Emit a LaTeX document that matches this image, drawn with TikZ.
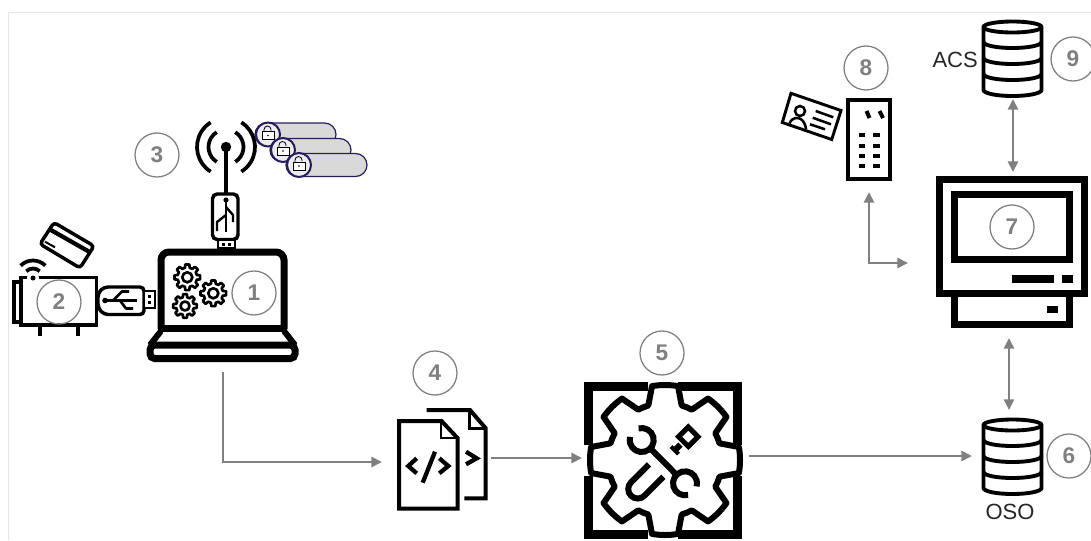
\documentclass[tikz,border=0pt]{standalone}
\usepackage{fontspec}
\setmainfont{Liberation Sans}
\usetikzlibrary{arrows.meta}
\definecolor{gr}{HTML}{808080}
\definecolor{pillc}{HTML}{D9D9D9}
\definecolor{pillb}{HTML}{2A1B5C}
\tikzset{
  numc/.style={circle,draw=gr,line width=0.95pt,minimum size=33pt,inner sep=0pt,text=gr,font=\bfseries\fontsize{17}{17}\selectfont},
  lbl/.style={inner sep=0pt,text=black!85,font=\fontsize{16.5}{17}\selectfont},
  conn/.style={draw=gr,line width=2.1pt,-{Triangle[length=8pt,width=7.5pt]}},
  connb/.style={draw=gr,line width=2.1pt,{Triangle[length=8pt,width=7.5pt]}-{Triangle[length=8pt,width=7.5pt]}},
  ico/.style={draw=black,line width=3pt,line join=miter},
  icoh/.style={draw=black,line width=5.25pt,line join=miter},
  icot/.style={draw=black,line width=2pt,line join=round},
  frameln/.style={draw=black!10,line width=0.75pt}
}
% gear: cx cy outer inner half-tip half-base hole style
\newcommand{\geargl}[8]{%
  \begin{scope}[shift={(#1,#2)}]
    \draw[#8] ({0-#5}:#3)
      \foreach \a in {0,45,...,315}{
        -- ({\a-#5}:#3) arc[start angle={\a-#5},end angle={\a+#5},radius=#3]
        -- ({\a+#6}:#4) arc[start angle={\a+#6},end angle={\a+45-#6},radius=#4]
      } -- cycle;
    \ifdim #7pt>0pt \draw[#8] (0,0) circle (#7); \fi
  \end{scope}}
\newcommand{\dbglyph}[2]{%
  \begin{scope}[shift={(#1,#2)}]
    \draw[ico,fill=white,line width=2.9pt] (-29,7) -- (-29,70) arc[start angle=180,end angle=0,x radius=29,y radius=6] -- (29,7) arc[start angle=0,end angle=-180,x radius=29,y radius=5.5] -- cycle;
    \draw[ico,line width=2.9pt] (-29,7) arc[start angle=180,end angle=0,x radius=29,y radius=5.5];
    \foreach \yy in {22,38,54}
      \draw[ico,line width=2.9pt] (-29,\yy) arc[start angle=180,end angle=0,x radius=29,y radius=6];
  \end{scope}}
\newcommand{\lockpill}[2]{%
  \begin{scope}[shift={(#1,#2)}]
    \draw[draw=pillb,fill=pillc,line width=0.9pt,rounded corners=8.6pt] (-13,-11.5) rectangle (68,11.5);
    \draw[draw=pillb,fill=pillc!50!white,line width=1.5pt] (0,0) circle (12);
    \draw[draw=black,line width=0.6pt,fill=white] (-6,-3) rectangle (6,5);
    \draw[draw=black,line width=0.6pt] (-4,-3) -- (-4,-5) arc[start angle=180,end angle=360,radius=3.5] -- (3,-4);
    \fill (0,1) circle (0.9);
  \end{scope}}
\begin{document}
\begin{tikzpicture}[x=0.75pt,y=0.75pt,yscale=-1]
\useasboundingbox (0,0) rectangle (1091,540);
\fill[white] (0,0) rectangle (1091,540);
\draw[frameln] (8,540) -- (8,12) -- (1091,12);

% --- laptop (1)
\draw[icoh,rounded corners=6pt] (161,329) -- (161,252) -- (284,252) -- (284,329);
\draw[icoh] (158,328.5) -- (287,328.5);
\draw[icoh,line width=4.5pt] (161,331) -- (150,345);
\draw[icoh,line width=4.5pt] (284,331) -- (295,345);
\draw[icoh,rounded corners=3.5pt] (150,345) rectangle (295,358.5);
\geargl{187.3}{277.3}{13}{9.8}{9}{14}{5}{icot}
\geargl{213.3}{293.3}{13}{9.8}{9}{14}{5}{icot}
\geargl{185}{306}{12}{9}{9}{14}{4.5}{icot}

% --- antenna dongle (3)
\draw[ico,line width=2.6pt,fill=white,rounded corners=3.5pt] (212.5,239.5) -- (212.5,194) -- (238,194) -- (238,239.5) -- cycle;
\draw[ico,fill=white,line width=1.9pt] (218,240) rectangle (235,248);
\fill (222,243) rectangle (225,246);
\fill (228,243) rectangle (231,246);
\draw[ico,line width=2.6pt] (226,147) -- (226,193);
\fill (226,147) circle (5.2);
\foreach \rr in {17.5,29}{
  \draw[ico,line width=2.8pt] (226,147) ++(-58:\rr) arc[start angle=-58,end angle=58,radius=\rr];
  \draw[ico,line width=2.8pt] (226,147) ++(122:\rr) arc[start angle=122,end angle=238,radius=\rr];
}
\fill (226,200) circle (2.6);
\draw[icot,line width=1.8pt] (226,200) -- (226,232);
\draw[icot,line width=1.8pt] (226,207) -- (233,215) -- (233,222);
\draw[icot,line width=1.8pt] (226,215) -- (217,222) -- (217,231);

% --- pills
\lockpill{268}{134.5}
\lockpill{283}{150}
\lockpill{299}{165}

% --- card reader (2)
\draw[ico,line width=2.8pt] (21,277.5) -- (96.5,277.5) -- (96.5,325) -- (21,325) -- cycle;
\draw[ico,line width=2.8pt] (21,282) -- (14,282) -- (14,322) -- (21,322);
\draw[ico,line width=3pt] (39.5,325) -- (39.5,336);
\draw[ico,line width=3pt] (78,325) -- (78,336);
\fill[white] (33,278) circle (6);
\fill (33,278) circle (2.5);
\draw[ico,line width=2.8pt] (33,278) ++(225:9.5) arc[start angle=225,end angle=315,radius=9.5];
\draw[ico,line width=2.8pt] (33,278) ++(225:17.5) arc[start angle=225,end angle=315,radius=17.5];
% contactless card
\draw[ico,line width=2.6pt,rounded corners=2.5pt] (54,222.5) -- (94,246) -- (80,268) -- (40,244) -- cycle;
\draw[ico,line width=3.2pt] (50,229.5) -- (90.5,252.5);
\draw[ico,line width=1.5pt] (45,241.7) -- (55,247.3);

% --- horizontal USB stick
\draw[ico,line width=2.6pt,fill=white,rounded corners=3pt] (144,287) -- (104,287) -- (98,293) -- (98,308) -- (104,314.5) -- (144,314.5) -- cycle;
\draw[ico,fill=white,line width=2pt] (144,291) rectangle (155,308);
\fill (148,294.5) rectangle (151,297.5);
\fill (148,301) rectangle (151,304);
\fill (105,300.5) circle (2.8);
\draw[icot] (105,300.5) -- (137,300.5);
\draw[icot] (113,300.5) -- (122,291.5) -- (129,291.5);
\draw[icot] (120,300.5) -- (126,308.5) -- (133,308.5);

% --- documents (4)
\draw[ico,line width=3pt] (426.7,410) -- (470,410) -- (485.7,428.3) -- (485.7,498.3) -- (464.3,498.3);
\draw[ico,line width=2.2pt] (469.5,410) -- (469.5,428.3) -- (485.7,428.3);
\draw[ico,line width=3.2pt] (466,451.7) -- (476.7,458.3) -- (466,464.3);
\draw[ico,fill=white,line width=3pt] (399,421) -- (441.5,421) -- (457.5,438) -- (457.5,508.5) -- (399,508.5) -- cycle;
\draw[ico,line width=2.2pt] (441,421) -- (441,438) -- (457.5,438);
\draw[ico,line width=3.2pt] (416.7,458.3) -- (408.3,466) -- (416.7,473.3);
\draw[ico,line width=3.2pt] (435,451.7) -- (422.7,482.7);
\draw[ico,line width=3.2pt] (439.3,458.3) -- (448.3,466) -- (439.3,473.3);

% --- service tool (5)
\foreach \sx/\sy/\ex/\ey/\cx/\cy in {647.5/386.5/588.5/445/588.5/386.5, 678/386.5/737.5/445/737.5/386.5, 647.5/534.5/588.5/475.5/588.5/534.5, 678/534.5/737.5/475.5/737.5/534.5}
  \draw[draw=black,line width=7pt,line cap=butt,line join=miter] (\sx,\sy) -- (\cx,\cy) -- (\ex,\ey);
\geargl{665}{460}{75}{57}{10}{17}{0}{draw=black,line width=4.5pt,line join=round}
\draw[icoh,line width=4.5pt] (641.7,440) ++(255:12) arc[start angle=255,end angle=555,radius=12];
\draw[icoh,line width=4.5pt] (685,483.3) ++(75:12) arc[start angle=75,end angle=375,radius=12];
\draw[icoh,line width=4.5pt] (650.5,448.5) -- (676.5,474.8);
\draw[icoh,line width=4.5pt] (649,464.3) -- (631,482.3) arc[start angle=225,end angle=45,radius=9.5] -- (663.4,476.7);
\draw[icoh,line width=3.8pt] (688.3,427) -- (698,436.7) -- (688.3,446.4) -- (678.6,436.7) -- cycle;
\draw[icoh,line width=4.5pt] (680.5,444.5) -- (674.5,450.5);
\draw[icoh,line width=3pt] (671,446.5) -- (678.5,454);

% --- databases
\dbglyph{1012.5}{20}
\dbglyph{1012.5}{418}
\node[lbl,anchor=east] (acs) at (978,60) {ACS};
\node[lbl] (oso) at (1010,512) {OSO};

% --- access terminal (8)
\draw[ico] (848,99.5) rectangle (890,178.5);
\draw[ico] (866.5,111) -- (869.5,118);
\draw[ico] (879.5,111) -- (883,118);
\foreach \yy in {133,143.5,153.5,164}{
  \fill (858.5,\yy) rectangle (865,\yy+4);
  \fill (873,\yy) rectangle (879.5,\yy+4);
}
% ID card
\draw[ico,line width=2.2pt] (791,93.3) -- (841,110.5) -- (831.7,139.5) -- (782.3,122.5) -- cycle;
\draw[ico,line width=1.9pt] (800,111) circle (5);
\draw[ico,line width=1.9pt] (789.5,123.5) .. controls (792,116) and (804,114.5) .. (806,129);
\draw[ico,line width=1.9pt] (815.7,111) -- (833.3,117.3);
\draw[ico,line width=1.9pt] (812.7,117.7) -- (831,124.3);
\draw[ico,line width=1.9pt] (810,124.3) -- (825,129.3);

% --- workstation (7)
\draw[icoh] (939.5,179.5) rectangle (1084.5,293.5);
\draw[icoh] (954.5,194.5) rectangle (1069.5,259.5);
\fill (1012,275) rectangle (1054,283);
\fill (1062,275) rectangle (1073,283);
\draw[icoh] (954.5,297) -- (954.5,324.5) -- (1069.5,324.5) -- (1069.5,297);
\fill (1047,306) rectangle (1058,313);

% --- number badges
\node[numc] (n1) at (254,293) {1};
\node[numc] (n2) at (59,302) {2};
\node[numc] (n3) at (157,155) {3};
\node[numc] (n4) at (435,373) {4};
\node[numc] (n5) at (662,353) {5};
\node[numc] (n6) at (1069,456) {6};
\node[numc] (n7) at (1012,227) {7};
\node[numc] (n8) at (866,68) {8};
\node[numc] (n9) at (1073,59) {9};

% --- connector ends
\coordinate (lapOut) at (223,372);
\coordinate (lapBend) at (223,462);
\coordinate (docIn) at (382,462);
\coordinate (docOut) at (491,458);
\coordinate (toolIn) at (582,458);
\coordinate (toolOut) at (749,456);
\coordinate (osoIn) at (972,456);
\coordinate (osoTop) at (1009,410);
\coordinate (wsBot) at (1009,338);
\coordinate (acsBot) at (1013,99);
\coordinate (wsTop) at (1013,172);
\coordinate (termBot) at (869,192);
\coordinate (termBend) at (869,263);
\coordinate (wsLeft) at (908,263);

\draw[conn] (lapOut) -- (lapBend) -- (docIn);
\draw[conn] (docOut) -- (toolIn);
\draw[conn] (toolOut) -- (osoIn);
\draw[connb] (wsBot) -- (osoTop);
\draw[connb] (acsBot) -- (wsTop);
\draw[connb] (termBot) -- (termBend) -- (wsLeft);
\end{tikzpicture}
\end{document}
